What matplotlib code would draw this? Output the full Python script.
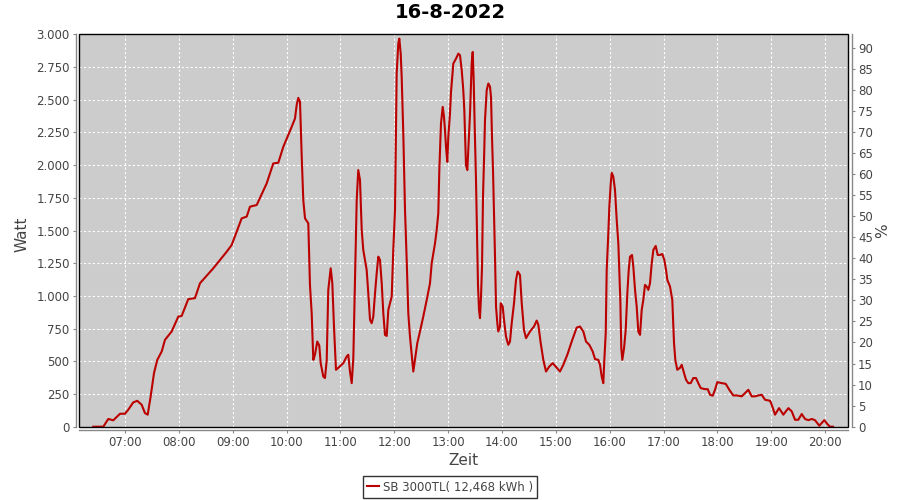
import numpy as np
import matplotlib
matplotlib.use("Agg")
import matplotlib.pyplot as plt
from matplotlib.patches import Rectangle
from matplotlib.ticker import FuncFormatter

# Chart data: time of day in decimal hours, power in W
title = "16-8-2022"
series_name = "SB 3000TL( 12,468 kWh )"
hour_ticks = list(range(7, 21))
hour_labels = [f"{h:02d}:00" for h in hour_ticks]
watt_ticks = list(range(0, 3001, 250))
pct_ticks = list(range(0, 91, 5))

hours = [
    6.411, 6.597, 6.690, 6.783, 6.907, 7.000, 7.061, 7.154, 7.228, 7.310,
    7.371, 7.422, 7.477, 7.539, 7.600, 7.682, 7.743, 7.867, 7.990, 8.053,
    8.175, 8.300, 8.393, 8.640, 8.889, 8.981, 9.167, 9.260, 9.321, 9.446,
    9.631, 9.754, 9.847, 9.940, 10.096, 10.157, 10.188, 10.218, 10.250, 10.281,
    10.311, 10.343, 10.404, 10.435, 10.467, 10.497, 10.528, 10.571, 10.608, 10.634,
    10.682, 10.714, 10.746, 10.775, 10.820, 10.850, 10.881, 10.918, 10.961, 11.054,
    11.117, 11.147, 11.178, 11.210, 11.240, 11.271, 11.303, 11.332, 11.364, 11.396,
    11.425, 11.488, 11.518, 11.550, 11.581, 11.611, 11.643, 11.674, 11.704, 11.735,
    11.767, 11.797, 11.828, 11.860, 11.890, 11.921, 11.953, 11.982, 12.014, 12.045,
    12.075, 12.094, 12.120, 12.138, 12.168, 12.200, 12.231, 12.261, 12.292, 12.324,
    12.354, 12.385, 12.428, 12.478, 12.539, 12.603, 12.664, 12.695, 12.757, 12.788,
    12.818, 12.837, 12.868, 12.900, 12.924, 12.942, 12.961, 12.985, 13.004, 13.035,
    13.054, 13.097, 13.147, 13.190, 13.221, 13.253, 13.282, 13.301, 13.314, 13.332,
    13.357, 13.375, 13.407, 13.438, 13.457, 13.475, 13.494, 13.518, 13.537, 13.555,
    13.574, 13.592, 13.611, 13.630, 13.648, 13.667, 13.685, 13.717, 13.747, 13.778,
    13.797, 13.815, 13.834, 13.852, 13.871, 13.890, 13.914, 13.932, 13.964, 13.977,
    14.014, 14.038, 14.075, 14.118, 14.149, 14.181, 14.224, 14.261, 14.292, 14.335,
    14.367, 14.409, 14.447, 14.521, 14.595, 14.645, 14.675, 14.720, 14.768, 14.818,
    14.879, 14.942, 15.017, 15.078, 15.139, 15.214, 15.295, 15.388, 15.449, 15.511,
    15.561, 15.622, 15.685, 15.728, 15.789, 15.821, 15.852, 15.882, 15.901, 15.927,
    15.945, 15.975, 15.994, 16.020, 16.038, 16.068, 16.099, 16.131, 16.161, 16.179,
    16.198, 16.216, 16.235, 16.267, 16.298, 16.328, 16.354, 16.378, 16.415, 16.439,
    16.471, 16.502, 16.532, 16.564, 16.595, 16.625, 16.656, 16.688, 16.718, 16.749,
    16.781, 16.811, 16.855, 16.892, 16.935, 16.978, 17.015, 17.047, 17.071, 17.121,
    17.163, 17.195, 17.219, 17.256, 17.306, 17.338, 17.381, 17.418, 17.460, 17.505,
    17.553, 17.603, 17.646, 17.691, 17.771, 17.821, 17.864, 17.914, 17.956, 17.999,
    18.081, 18.155, 18.222, 18.296, 18.365, 18.452, 18.513, 18.575, 18.638, 18.699,
    18.760, 18.823, 18.885, 18.978, 19.009, 19.071, 19.145, 19.225, 19.318, 19.381,
    19.442, 19.503, 19.566, 19.628, 19.689, 19.752, 19.813, 19.893, 19.938, 19.986,
    20.042, 20.092, 20.148,
]

watts = [
    0, 0, 59, 49, 99, 99, 130, 186, 198, 168,
    104, 92, 232, 410, 511, 575, 664, 728, 842, 847,
    975, 983, 1097, 1211, 1338, 1389, 1593, 1606, 1682, 1695,
    1860, 2013, 2018, 2140, 2293, 2356, 2458, 2514, 2483, 2076,
    1733, 1593, 1555, 1084, 868, 511, 550, 651, 620, 486,
    384, 372, 511, 1046, 1211, 1097, 766, 435, 450, 486,
    537, 550, 422, 333, 524, 1122, 1733, 1962, 1885, 1504,
    1351, 1198, 1020, 817, 791, 842, 1020, 1173, 1300, 1275,
    1097, 868, 702, 694, 893, 943, 995, 1351, 1656, 2700,
    2929, 2967, 2852, 2674, 2242, 1656, 1275, 868, 689, 550,
    422, 511, 639, 728, 842, 969, 1097, 1249, 1402, 1504,
    1631, 1962, 2318, 2445, 2369, 2267, 2140, 2025, 2216, 2394,
    2560, 2776, 2814, 2852, 2840, 2725, 2573, 2420, 2242, 2000,
    1962, 2115, 2394, 2776, 2865, 2648, 2293, 1885, 1453, 1084,
    893, 830, 995, 1224, 1758, 2038, 2343, 2573, 2624, 2600,
    2521, 2216, 1962, 1656, 1300, 918, 791, 728, 766, 944,
    918, 817, 689, 626, 651, 791, 944, 1122, 1186, 1160,
    944, 740, 677, 728, 766, 811, 780, 639, 511, 422,
    460, 486, 450, 422, 473, 550, 651, 758, 766, 728,
    651, 626, 575, 517, 511, 473, 384, 333, 511, 715,
    1198, 1478, 1682, 1860, 1941, 1911, 1809, 1580, 1402, 1198,
    969, 600, 511, 600, 740, 1020, 1198, 1300, 1313, 1224,
    1046, 918, 728, 702, 893, 969, 1084, 1071, 1046, 1097,
    1249, 1351, 1382, 1313, 1313, 1320, 1275, 1198, 1122, 1071,
    969, 639, 511, 435, 450, 473, 410, 359, 333, 333,
    372, 372, 333, 295, 287, 287, 244, 237, 282, 341,
    333, 328, 282, 239, 239, 232, 257, 282, 232, 232,
    239, 244, 206, 198, 168, 92, 142, 92, 142, 117,
    53, 53, 97, 59, 50, 59, 50, 8, 28, 50,
    20, 0, 0,
]

line_color = "#BB0000"
text_gray = "#444444"
axis_gray = "#888888"

plt.rcParams["font.family"] = ["DejaVu Sans"]

fig = plt.figure(figsize=(9, 5), dpi=100)
ax = fig.add_axes([0.0883, 0.1466, 0.8543, 0.7848])
ax.set_facecolor("#CCCCCC")

ax.plot(hours, watts, color=line_color, lw=1.5, label=series_name, zorder=3)

ax.set_xlim(6.155, 20.432)
ax.set_ylim(0, 3000)
ax.set_xticks(hour_ticks)
ax.set_xticklabels(hour_labels)
ax.set_yticks(watt_ticks)
ax.yaxis.set_major_formatter(FuncFormatter(lambda v, p: f"{v:,.0f}".replace(",", ".")))
ax.grid(True, color="white", linestyle=(0, (2, 2)), linewidth=0.8)
ax.set_axisbelow(True)

# percent axis on the right
ax2 = ax.twinx()
ax2.set_ylim(0, 3000 / 3220 * 100)
ax2.set_yticks(pct_ticks)
ax2.set_yticklabels([str(p) for p in pct_ticks])

for a in (ax, ax2):
    for side in ("top", "right", "left", "bottom"):
        a.spines[side].set_visible(False)
    a.tick_params(colors=axis_gray, labelcolor=text_gray, labelsize=8.5,
                  length=2.5, width=0.8, pad=2)

ax.spines["left"].set_visible(True)
ax.spines["bottom"].set_visible(True)
ax.spines["left"].set_position(("outward", 2.5))
ax.spines["bottom"].set_position(("outward", 2.5))
ax2.spines["right"].set_visible(True)
ax2.spines["right"].set_position(("outward", 2.5))
for sp in (ax.spines["left"], ax.spines["bottom"], ax2.spines["right"]):
    sp.set_color(axis_gray)
    sp.set_linewidth(1.0)

# black plot outline like the original chart
ax2.add_patch(Rectangle((0, 0), 1, 1, transform=ax.transAxes, fill=False,
                        edgecolor="black", lw=1.0, clip_on=False, zorder=5))

ax.set_xlabel("Zeit", fontsize=11, color=text_gray, va="center")
ax.xaxis.set_label_coords(0.5, -0.085)
ax.set_ylabel("Watt", fontsize=11, color=text_gray, va="center")
ax.yaxis.set_label_coords(-0.075, 0.49)
ax2.set_ylabel("%", fontsize=11, color=text_gray, va="center", rotation=90)
ax2.yaxis.set_label_coords(1.044, 0.5)

fig.text(0.5, 0.974, title, ha="center", va="center", fontsize=14,
         fontweight="bold", color="black")

leg = fig.legend(loc="center", bbox_to_anchor=(0.5, 0.026), fontsize=8.5,
                 frameon=True, fancybox=False, handlelength=1.0,
                 handletextpad=0.3, borderpad=0.35, borderaxespad=0)
leg.get_frame().set_edgecolor("black")
leg.get_frame().set_linewidth(1.0)
for t in leg.get_texts():
    t.set_color(text_gray)

fig.savefig("out.png", dpi=100)
